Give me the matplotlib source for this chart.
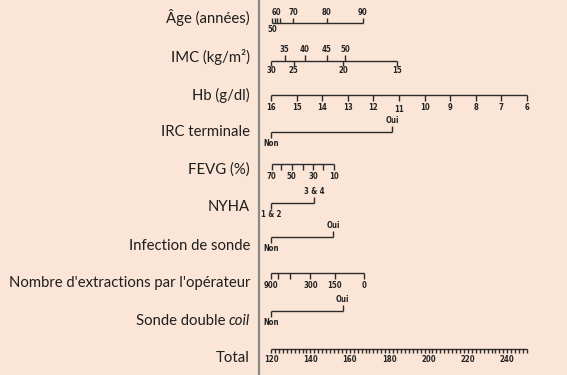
import matplotlib
matplotlib.use("Agg")
import matplotlib.pyplot as plt

# ---------------- data (positions on the common points scale) ----------------
row_labels = ["Âge (années)", "IMC (kg/m²)", "Hb (g/dl)", "IRC terminale", "FEVG (%)",
              "NYHA", "Infection de sonde", "Nombre d'extractions par l'opérateur",
              "Sonde double coil", "Total"]

age_values = [50, 55, 60, 65, 70, 80, 90]
age_points = [120.5, 121.8, 123.0, 124.6, 131.4, 148.4, 166.7]
age_labels = ["50", "", "60", "", "70", "80", "90"]

imc_high_values = [35, 40, 45, 50]
imc_high_points = [127.0, 137.1, 148.4, 157.7]
imc_low_values = [30, 25, 20, 15]
imc_low_points = [120.2, 131.5, 156.6, 184.0]

hb_values = [16, 15, 14, 13, 12, 11, 10, 9, 8, 7, 6]
hb_points = [120, 133, 146, 159, 172, 185, 198, 211, 224, 237, 250]

fevg_values = [70, 60, 50, 40, 30, 20, 10]
fevg_points = [120.4, 125.1, 130.5, 136.1, 141.5, 146.6, 152.0]
fevg_labels = ["70", "", "50", "", "30", "", "10"]

extr_values = [900, 600, 450, 300, 150, 0]
extr_points = [120.2, 123.4, 129.5, 140.0, 152.4, 167.1]
extr_labels = ["900", "", "", "300", "150", "0"]

irc_points = [120, 181.5]        # Non, Oui
nyha_points = [120, 141.8]       # 1 & 2, 3 & 4
infection_points = [120, 151.5]  # Non, Oui
coil_points = [120, 156.4]       # Non, Oui

total_min, total_max = 120, 250
total_major = [120, 140, 160, 180, 200, 220, 240]
total_minor_step = 2

# ---------------- figure ----------------
W, H = 567, 375
bg = "#FAE5D7"
fig = plt.figure(figsize=(W / 100, H / 100), dpi=100, facecolor=bg)
ax = fig.add_axes([0, 0, 1, 1])
ax.set_facecolor(bg)
ax.axis("off")

# map: px 271 -> 120, px 527 -> 250
scale = (527 - 271) / 130.0
x0 = 120 - 271 / scale
x1 = 120 + (W - 271) / scale
ax.set_xlim(x0, x1)
ax.set_ylim(H, 0)

def px2u(px):
    return 120 + (px - 271) / scale

lc = "#2b2b2b"
lw = 1.0
tfs = 5.6
tick_kw = dict(fontsize=tfs, fontweight="bold", color="#222222", family="DejaVu Sans",
               fontstretch="condensed", ha="center")

label_x = px2u(250)
label_y = [18, 57, 95, 132, 170, 207, 246, 283, 321, 358]
lfs = 10.7
lab_kw = dict(fontsize=lfs, color="#1e1e1e", family="Lato", ha="right", va="center")

# vertical separator
ax.plot([px2u(258.5), px2u(258.5)], [0, H], color="#8a8a8a", lw=1.6, solid_capstyle="butt")

for i, lab in enumerate(row_labels):
    if lab == "Sonde double coil":
        t = ax.text(label_x, label_y[i], "coil", style="italic", **lab_kw)
        ax.annotate("Sonde double ", xy=(0, 0.5), xycoords=t, fontsize=lfs, color="#1e1e1e",
                    family="Lato", ha="right", va="center")
    else:
        ax.text(label_x, label_y[i], lab, **lab_kw)

def hline(y, a, b):
    ax.plot([a, b], [y, y], color=lc, lw=lw, solid_capstyle="butt")

def vtick(x, y, length):
    ax.plot([x, x], [y, y + length], color=lc, lw=lw, solid_capstyle="butt")

# Age
y = 22.7
hline(y, age_points[0], age_points[-1])
for p, l in zip(age_points, age_labels):
    vtick(p, y, -5)
    if l == "50":
        ax.text(p, y + 2.5, l, va="top", **tick_kw)
    elif l:
        ax.text(p, y - 6, l, va="bottom", **tick_kw)

# IMC
y = 60.7
hline(y, imc_low_points[0], imc_low_points[-1])
for p, v in zip(imc_high_points, imc_high_values):
    vtick(p, y, -6)
    ax.text(p, y - 7, str(v), va="bottom", **tick_kw)
for p, v in zip(imc_low_points, imc_low_values):
    vtick(p, y, 5)
    ax.text(p, y + 5.5, str(v), va="top", **tick_kw)

# Hb
y = 95
hline(y, hb_points[0], hb_points[-1])
for p, v in zip(hb_points, hb_values):
    vtick(p, y, 6)
    dy = 2 if v == 11 else 0
    ax.text(p, y + 8 + dy, str(v), va="top", **tick_kw)

def binary(y, pts, low, high):
    hline(y, pts[0], pts[1])
    vtick(pts[0], y, 6)
    vtick(pts[1], y, -6)
    ax.text(pts[0], y + 7, low, va="top", **tick_kw)
    ax.text(pts[1], y - 7, high, va="bottom", **tick_kw)

binary(132, irc_points, "Non", "Oui")

# FEVG
y = 164.3
hline(y, fevg_points[0], fevg_points[-1])
for p, l in zip(fevg_points, fevg_labels):
    vtick(p, y, 6)
    if l:
        ax.text(p, y + 8, l, va="top", **tick_kw)

binary(203.3, nyha_points, "1 & 2", "3 & 4")
binary(237.3, infection_points, "Non", "Oui")

# Extractions
y = 273.3
hline(y, extr_points[0], extr_points[-1])
for p, l in zip(extr_points, extr_labels):
    vtick(p, y, 6)
    if l:
        ax.text(p, y + 8, l, va="top", **tick_kw)

binary(311, coil_points, "Non", "Oui")

# Total
y = 348.7
hline(y, total_min, total_max)
v = total_min
while v <= total_max:
    vtick(v, y, 4 if v % 10 else 4.5)
    v += total_minor_step
for v in total_major:
    ax.text(v, y + 6, str(v), va="top", **tick_kw)

fig.savefig("out.png", dpi=100, facecolor=bg)
